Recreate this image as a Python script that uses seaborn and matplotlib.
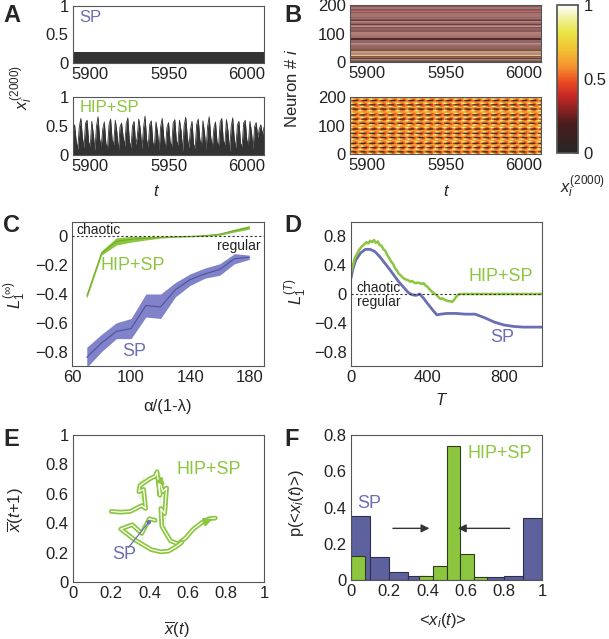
import numpy as np
import pandas as pd
import matplotlib.pyplot as plt
import seaborn as sns
from matplotlib.colors import LinearSegmentedColormap

sns.set_theme(style="white")
plt.rcParams['font.family'] = ['Liberation Sans', 'DejaVu Sans']
plt.rcParams['mathtext.fontset'] = 'custom'
plt.rcParams['mathtext.rm'] = 'Liberation Sans'
plt.rcParams['mathtext.it'] = 'Liberation Sans:italic'
plt.rcParams['mathtext.bf'] = 'Liberation Sans:bold'

GREEN = "#8cc63f"
GREEN_DARK = "#72ad2a"
PURPLE = "#6b6eb2"
PURPLE_BAND = "#8083c9"
PURPLE_LINE = "#4f529a"
HIST_BLUE = "#5d619e"

# --- data -------------------------------------------------------------
# A: single neuron activity, t = 5889 .. 6011
t_start = 5889
sp_level = 0.19
hip_trace = [
    0.38, 0.52, 0.25, 0.10, 0.48, 0.63, 0.30, 0.12, 0.55, 0.60, 0.22, 0.15,
    0.58, 0.35, 0.08, 0.50, 0.66, 0.28, 0.14, 0.45, 0.57, 0.20, 0.10, 0.52,
    0.62, 0.26, 0.18, 0.60, 0.40, 0.06, 0.48, 0.55, 0.32, 0.15, 0.54, 0.64,
    0.24, 0.12, 0.50, 0.58, 0.18, 0.30, 0.62, 0.44, 0.10, 0.46, 0.67, 0.27,
    0.13, 0.53, 0.59, 0.21, 0.16, 0.57, 0.38, 0.08, 0.49, 0.63, 0.29, 0.11,
    0.47, 0.56, 0.23, 0.14, 0.55, 0.61, 0.25, 0.17, 0.60, 0.42, 0.07, 0.51,
    0.65, 0.31, 0.12, 0.44, 0.58, 0.19, 0.11, 0.53, 0.62, 0.27, 0.15, 0.59,
    0.37, 0.09, 0.50, 0.66, 0.30, 0.13, 0.46, 0.57, 0.22, 0.16, 0.56, 0.63,
    0.24, 0.18, 0.61, 0.41, 0.06, 0.48, 0.64, 0.28, 0.12, 0.52, 0.58, 0.20,
    0.14, 0.55, 0.60, 0.26, 0.17, 0.58, 0.39, 0.10, 0.49, 0.56, 0.30, 0.45,
    0.52, 0.35, 0.48,
]

# B: SP neuron states (tenths), constant in time, neurons 0..199
sp_neurons = [
    0, 0, 4, 10, 0, 0, 6, 10, 0, 4, 10, 0, 0, 0, 4, 0, 6, 10, 0, 4,
    0, 6, 10, 10, 6, 0, 10, 6, 0, 6, 10, 0, 10, 4, 10, 0, 6, 10, 6, 0,
    0, 4, 10, 0, 0, 4, 10, 0, 4, 0, 10, 4, 0, 0, 10, 4, 0, 4, 10, 0,
    10, 4, 0, 10, 10, 4, 0, 4, 10, 0, 0, 4, 10, 0, 4, 10, 0, 0, 4, 0,
    0, 0, 4, 0, 0, 10, 4, 0, 10, 4, 0, 10, 0, 4, 10, 4, 0, 10, 6, 0,
    10, 4, 0, 10, 4, 10, 0, 4, 0, 10, 4, 0, 0, 4, 10, 0, 4, 10, 0, 0,
    0, 4, 10, 0, 10, 4, 10, 0, 4, 10, 0, 4, 0, 0, 4, 10, 0, 4, 10, 0,
    4, 10, 0, 10, 4, 0, 0, 0, 4, 0, 10, 4, 0, 10, 4, 0, 4, 10, 0, 10,
    0, 4, 10, 4, 0, 10, 0, 4, 10, 0, 4, 10, 0, 4, 0, 10, 4, 0, 10, 4,
    0, 4, 10, 0, 0, 4, 10, 4, 0, 10, 0, 4, 10, 0, 4, 0, 10, 4, 0, 0,
]
# B: HIP+SP one oscillation cycle (6 steps) for groups of 5 neurons
cyc_y0 = [0.95, 0.80, 0.60, 0.50, 0.55, 0.75]
cyc_y1 = [0.75, 0.95, 0.80, 0.60, 0.50, 0.55]
cyc_o = [0.62, 0.58, 0.55, 0.60, 0.65, 0.66]
cyc_d0 = [0.35, 0.15, 0.10, 0.20, 0.45, 0.55]
cyc_d1 = [0.55, 0.35, 0.15, 0.10, 0.20, 0.45]
hip_groups = [
    cyc_y0, cyc_d0, cyc_o, cyc_y0, cyc_d1, cyc_y1, cyc_o, cyc_d0, cyc_y0, cyc_o,
    cyc_y1, cyc_d1, cyc_o, cyc_y0, cyc_d0, cyc_y1, cyc_o, cyc_d1, cyc_y0, cyc_o,
    cyc_y1, cyc_d0, cyc_o, cyc_y0, cyc_d1, cyc_y1, cyc_o, cyc_d0, cyc_y1, cyc_o,
    cyc_y0, cyc_d1, cyc_o, cyc_y1, cyc_d0, cyc_y0, cyc_o, cyc_d1, cyc_y1, cyc_o,
]
n_cycles = 21

# C: asymptotic Lyapunov exponent vs alpha/(1-lambda)
c_x = [70, 80, 90, 100, 110, 120, 130, 140, 150, 160, 170, 180]
c_sp_mean = [-0.84, -0.74, -0.66, -0.64, -0.48, -0.49, -0.37, -0.30, -0.26, -0.23, -0.155, -0.145]
c_sp_low = [-0.91, -0.80, -0.71, -0.71, -0.56, -0.57, -0.42, -0.34, -0.29, -0.27, -0.19, -0.16]
c_sp_high = [-0.77, -0.68, -0.60, -0.57, -0.40, -0.40, -0.32, -0.26, -0.22, -0.19, -0.12, -0.13]
c_hip_mean = [-0.415, -0.115, -0.035, -0.02, -0.012, -0.006, -0.003, 0.0, 0.005, 0.015, 0.04, 0.062]
c_hip_low = [-0.43, -0.13, -0.06, -0.04, -0.025, -0.012, -0.006, -0.003, 0.0, 0.008, 0.03, 0.05]
c_hip_high = [-0.40, -0.10, -0.01, 0.0, 0.0, 0.0, 0.0, 0.003, 0.01, 0.022, 0.05, 0.075]

# D: finite-time Lyapunov exponent vs T
d_sp_T = [0, 10, 25, 50, 75, 100, 125, 150, 200, 250, 300, 320, 340, 360, 380, 400,
          430, 450, 470, 500, 550, 600, 650, 700, 750, 800, 850, 900, 950, 1000]
d_sp_L = [0.22, 0.35, 0.47, 0.57, 0.62, 0.62, 0.59, 0.52, 0.35, 0.17, 0.02, -0.01,
          -0.02, 0.0, -0.06, -0.13, -0.23, -0.29, -0.28, -0.27, -0.27, -0.28, -0.28,
          -0.33, -0.39, -0.43, -0.45, -0.46, -0.46, -0.46]
d_hip_T = [0, 10, 20, 30, 40, 50, 60, 70, 80, 90, 100, 110, 120, 130, 140, 150, 160,
           170, 180, 190, 200, 210, 220, 230, 240, 250, 260, 270, 280, 290, 300, 310,
           320, 330, 340, 350, 360, 370, 380, 390, 400, 410, 420, 430, 440, 450, 460,
           470, 480, 490, 500, 510, 520, 530, 540, 550, 560, 570, 580, 590, 600, 1000]
d_hip_L = [0.30, 0.40, 0.50, 0.55, 0.60, 0.64, 0.67, 0.69, 0.72, 0.70, 0.74, 0.72,
           0.75, 0.71, 0.73, 0.68, 0.67, 0.62, 0.60, 0.54, 0.50, 0.45, 0.42, 0.36,
           0.33, 0.28, 0.26, 0.23, 0.21, 0.20, 0.19, 0.17, 0.18, 0.16, 0.15, 0.16,
           0.15, 0.14, 0.15, 0.12, 0.10, 0.07, 0.04, 0.02, 0.00, -0.02, -0.05, -0.07,
           -0.06, -0.08, -0.09, -0.10, -0.10, -0.11, -0.08, -0.04, -0.01, 0.00, 0.00,
           0.00, 0.00, 0.00]

# E: return map of mean activity
e_x1 = [0.20, 0.25, 0.30, 0.33, 0.36, 0.38, 0.37, 0.345, 0.35, 0.345, 0.35, 0.37,
        0.40, 0.43, 0.44, 0.455, 0.45, 0.47, 0.49, 0.48, 0.47, 0.46, 0.455, 0.465,
        0.48, 0.51, 0.55, 0.59, 0.63, 0.67, 0.71, 0.745]
e_y1 = [0.48, 0.475, 0.48, 0.50, 0.52, 0.50, 0.55, 0.58, 0.62, 0.65, 0.69, 0.71,
        0.70, 0.72, 0.75, 0.74, 0.70, 0.68, 0.64, 0.60, 0.55, 0.50, 0.44, 0.38,
        0.33, 0.28, 0.26, 0.30, 0.36, 0.40, 0.43, 0.435]
e_x2 = [0.43, 0.40, 0.36, 0.31, 0.27, 0.25, 0.28, 0.32, 0.36, 0.41, 0.46, 0.50, 0.54, 0.57]
e_y2 = [0.42, 0.43, 0.41, 0.39, 0.37, 0.36, 0.33, 0.29, 0.25, 0.22, 0.205, 0.21, 0.24, 0.27]
e_sp_point = (0.397, 0.407)

# F: distributions of time-averaged activity
f_sp_edges = [0.0, 0.1, 0.2, 0.3, 0.4, 0.5, 0.6, 0.7, 0.8, 0.9, 1.0]
f_sp_p = [0.355, 0.129, 0.042, 0.022, 0.008, 0.005, 0.005, 0.016, 0.02, 0.344]
f_hip_edges = [i / 14 for i in range(15)]
f_hip_p = [0.13, 0.0, 0.0, 0.0, 0.0, 0.022, 0.075, 0.74, 0.145, 0.015, 0.0, 0.0, 0.0, 0.0]

# --- figure ------------------------------------------------------------
W, H = 609, 639
fig = plt.figure(figsize=(W / 100, H / 100), dpi=100)


def box(l, t, r, b):
    ax = fig.add_axes([l / W, 1 - b / H, (r - l) / W, (b - t) / H])
    for s in ax.spines.values():
        s.set_visible(True)
        s.set_color("#555555")
        s.set_linewidth(0.8)
    ax.tick_params(direction="in", length=3, width=0.6, color="#444444",
                   labelsize=12, pad=3, labelcolor="#222222")
    ax.tick_params(which="minor", direction="in", length=3, width=0.6, color="#444444")
    return ax


def letter(x, y, s):
    fig.text(x / W, 1 - y / H, s, fontsize=17, fontweight="bold", ha="left", va="center")


def ftext(x, y, s, **kw):
    fig.text(x / W, 1 - y / H, s, ha="center", va="center", fontsize=12, **kw)


cmap = LinearSegmentedColormap.from_list("hotgray", [
    (0.0, "#262626"), (0.2, "#4a1c1c"), (0.38, "#c42626"), (0.48, "#ea4a22"),
    (0.58, "#f59030"), (0.7, "#f2c232"), (0.82, "#e8e646"), (0.92, "#f2f2a8"),
    (1.0, "#ffffff")])

t_hip = np.arange(t_start, t_start + len(hip_trace))
ticks = [0, 0.2, 0.4, 0.6, 0.8, 1]
tick_lbl = ["0", "0.2", "0.4", "0.6", "0.8", "1"]

# A top: SP
ax = box(73, 6, 264, 63)
ax.fill_between(t_hip, 0, sp_level, color="#333333", lw=0)
ax.set_xlim(5889, 6011)
ax.set_ylim(0, 1)
ax.set_yticks([0, 0.5, 1], ["0", "0.5", "1"])
ax.set_xticks([5900, 5950, 6000])
ax.text(5893, 0.8, "SP", color=PURPLE, fontsize=12, va="center")

# A bottom: HIP+SP
ax = box(73, 97, 264, 155)
sns.lineplot(x=t_hip, y=hip_trace, ax=ax, color="#333333", lw=0.6)
ax.fill_between(t_hip, 0, hip_trace, color="#333333", lw=0)
ax.set_xlim(5889, 6011)
ax.set_ylim(0, 1)
ax.set_yticks([0, 0.5, 1], ["0", "0.5", "1"])
ax.set_xticks([5900, 5950, 6000])
ax.text(5893, 0.82, "HIP+SP", color=GREEN, fontsize=12, va="center")

# B top: SP raster
sp_img = np.array(sp_neurons, dtype=float)[:, None] / 10.0
sp_img = np.repeat(sp_img, 2, axis=1)
ax = box(350, 5, 541, 62)
ax.imshow(sp_img, origin="lower", aspect="auto", cmap=cmap, vmin=0, vmax=1,
          extent=(5889, 6011, 0, 200), interpolation="antialiased",
          interpolation_stage="rgba")
ax.set_xlim(5889, 6011)
ax.set_ylim(0, 200)
ax.set_yticks([0, 100, 200])
ax.set_xticks([5900, 5950, 6000])

# B bottom: HIP+SP raster
hip_img = np.tile(np.repeat(np.array(hip_groups), 5, axis=0), (1, n_cycles))
ax = box(350, 97, 541, 154)
im = ax.imshow(hip_img, origin="lower", aspect="auto", cmap=cmap, vmin=0, vmax=1,
               extent=(t_start, t_start + hip_img.shape[1], 0, 200),
               interpolation="antialiased", interpolation_stage="rgba")
ax.set_xlim(5889, 6011)
ax.set_ylim(0, 200)
ax.set_yticks([0, 100, 200])
ax.set_xticks([5900, 5950, 6000])

cax = box(557, 5, 578, 153)
cb = fig.colorbar(im, cax=cax, ticks=[0, 0.5, 1])
cb.set_ticklabels(["0", "0.5", "1"])
cb.outline.set_edgecolor("#555555")
cax.tick_params(direction="in", length=3, labelsize=12, pad=4)

# C
ax = box(72, 222, 264, 366)
ax.fill_between(c_x, c_sp_low, c_sp_high, color=PURPLE_BAND, lw=0)
sns.lineplot(x=c_x, y=c_sp_mean, ax=ax, color=PURPLE_LINE, lw=0.8)
ax.fill_between(c_x, c_hip_low, c_hip_high, color=GREEN, lw=0)
sns.lineplot(x=c_x, y=c_hip_mean, ax=ax, color=GREEN_DARK, lw=0.8)
ax.axhline(0, color="#333333", lw=0.8, ls=(0, (2, 2)), zorder=5)
ax.set_xlim(60, 190)
ax.set_ylim(-0.9, 0.1)
ax.set_xticks([60, 100, 140, 180])
ax.set_xticks([80, 120, 160], minor=True)
ax.set_yticks([0, -0.2, -0.4, -0.6, -0.8], ["0", "\u22120.2", "\u22120.4", "\u22120.6", "\u22120.8"])
ax.text(63, 0.045, "chaotic", fontsize=10, color="#222222", va="center")
ax.text(188, -0.065, "regular", fontsize=10, color="#222222", va="center", ha="right")
ax.text(79, -0.2, "HIP+SP", color=GREEN, fontsize=13, va="center")
ax.text(94, -0.8, "SP", color=PURPLE, fontsize=13, va="center")

# D
ax = box(351, 222, 542, 366)
sns.lineplot(x=d_sp_T, y=d_sp_L, ax=ax, color=PURPLE, lw=2)
sns.lineplot(x=d_hip_T, y=d_hip_L, ax=ax, color=GREEN, lw=1.8)
ax.axhline(0, color="#333333", lw=0.8, ls=(0, (2, 2)), zorder=5)
ax.set_xlim(0, 1000)
ax.set_ylim(-1, 1)
ax.set_xticks([0, 400, 800])
ax.set_xticks([200, 600, 1000], minor=True)
ax.set_yticks([0.8, 0.4, 0, -0.4, -0.8], ["0.8", "0.4", "0", "\u22120.4", "\u22120.8"])
ax.text(30, 0.09, "chaotic", fontsize=10, color="#222222", va="center")
ax.text(30, -0.11, "regular", fontsize=10, color="#222222", va="center")
ax.text(615, 0.24, "HIP+SP", color=GREEN, fontsize=13, va="center")
ax.text(730, -0.6, "SP", color=PURPLE, fontsize=13, va="center")

# E
ax = box(73, 435, 264, 582)
for xs, ys in [(e_x1, e_y1), (e_x2, e_y2)]:
    sns.lineplot(x=xs, y=ys, ax=ax, sort=False, color=GREEN, lw=3.4)
    sns.lineplot(x=xs, y=ys, ax=ax, sort=False, color="white", lw=0.9)
ax.annotate("", xy=(e_x1[-1], e_y1[-1]), xytext=(e_x1[-3], e_y1[-3]),
            arrowprops=dict(arrowstyle="-|>", color=GREEN, lw=1.5, mutation_scale=12))
ax.annotate("", xy=(e_x1[18], e_y1[18]), xytext=(e_x1[16], e_y1[16]),
            arrowprops=dict(arrowstyle="-|>", color=GREEN, lw=1.5, mutation_scale=10))
ax.plot([e_sp_point[0], 0.29], [e_sp_point[1], 0.235], color=PURPLE, lw=0.9)
sns.scatterplot(x=[e_sp_point[0]], y=[e_sp_point[1]], ax=ax, color=PURPLE, s=10,
                edgecolor="none", zorder=6)
ax.text(0.27, 0.19, "SP", color=PURPLE, fontsize=13, ha="center", va="center")
ax.text(0.71, 0.765, "HIP+SP", color=GREEN, fontsize=13, ha="center", va="center")
ax.set_xlim(0, 1)
ax.set_ylim(0, 1)
ax.set_xticks(ticks, tick_lbl)
ax.set_yticks(ticks, tick_lbl)

# F
ax = box(351, 435, 542, 580)
sp_centers = [(a + b) / 2 for a, b in zip(f_sp_edges[:-1], f_sp_edges[1:])]
hip_centers = [(a + b) / 2 for a, b in zip(f_hip_edges[:-1], f_hip_edges[1:])]
sns.histplot(x=sp_centers, weights=f_sp_p, bins=f_sp_edges, ax=ax, color=HIST_BLUE,
             alpha=1, edgecolor="#2f2f4a", linewidth=0.8)
sns.histplot(x=hip_centers, weights=f_hip_p, bins=f_hip_edges, ax=ax, color=GREEN,
             alpha=1, edgecolor="#2f3a20", linewidth=0.8)
ax.annotate("", xy=(0.425, 0.285), xytext=(0.205, 0.285),
            arrowprops=dict(arrowstyle="-|>", color="#333333", lw=1, mutation_scale=12))
ax.annotate("", xy=(0.545, 0.285), xytext=(0.845, 0.285),
            arrowprops=dict(arrowstyle="-|>", color="#333333", lw=1, mutation_scale=12))
ax.text(0.095, 0.42, "SP", color=PURPLE, fontsize=13, ha="center", va="center")
ax.text(0.78, 0.70, "HIP+SP", color=GREEN, fontsize=13, ha="center", va="center")
ax.set_xlim(0, 1)
ax.set_ylim(0, 0.8)
ax.set_xticks(ticks, tick_lbl)
ax.set_yticks([0, 0.2, 0.4, 0.6, 0.8], ["0", "0.2", "0.4", "0.6", "0.8"])
ax.set_ylabel("")

# letters and axis labels
letter(3, 15, "A")
letter(284, 15, "B")
letter(3, 225, "C")
letter(284, 225, "D")
letter(3, 440, "E")
letter(284, 440, "F")

ftext(22, 88, r"$x_i^{(2000)}$", rotation=90)
ftext(292, 88, r"Neuron # $i$", rotation=90)
ftext(157, 191, r"$t$")
ftext(447, 191, r"$t$")
ftext(582, 187, r"$x_i^{(2000)}$")
ftext(15, 295, r"$L_1^{(\infty)}$", rotation=90)
ftext(168, 407, "\u03b1/(1-\u03bb)")
ftext(296, 292, r"$L_1^{(T)}$", rotation=90)
ftext(442, 400, r"$T$")
ftext(16, 510, r"$\overline{x}(t{+}1)$", rotation=90)
ftext(177, 630, r"$\overline{x}(t)$")
ftext(296, 503, r"p(<$x_i(t)$>)", rotation=90)
ftext(443, 620, r"<$x_i(t)$>")

fig.savefig("out.png", dpi=100)
